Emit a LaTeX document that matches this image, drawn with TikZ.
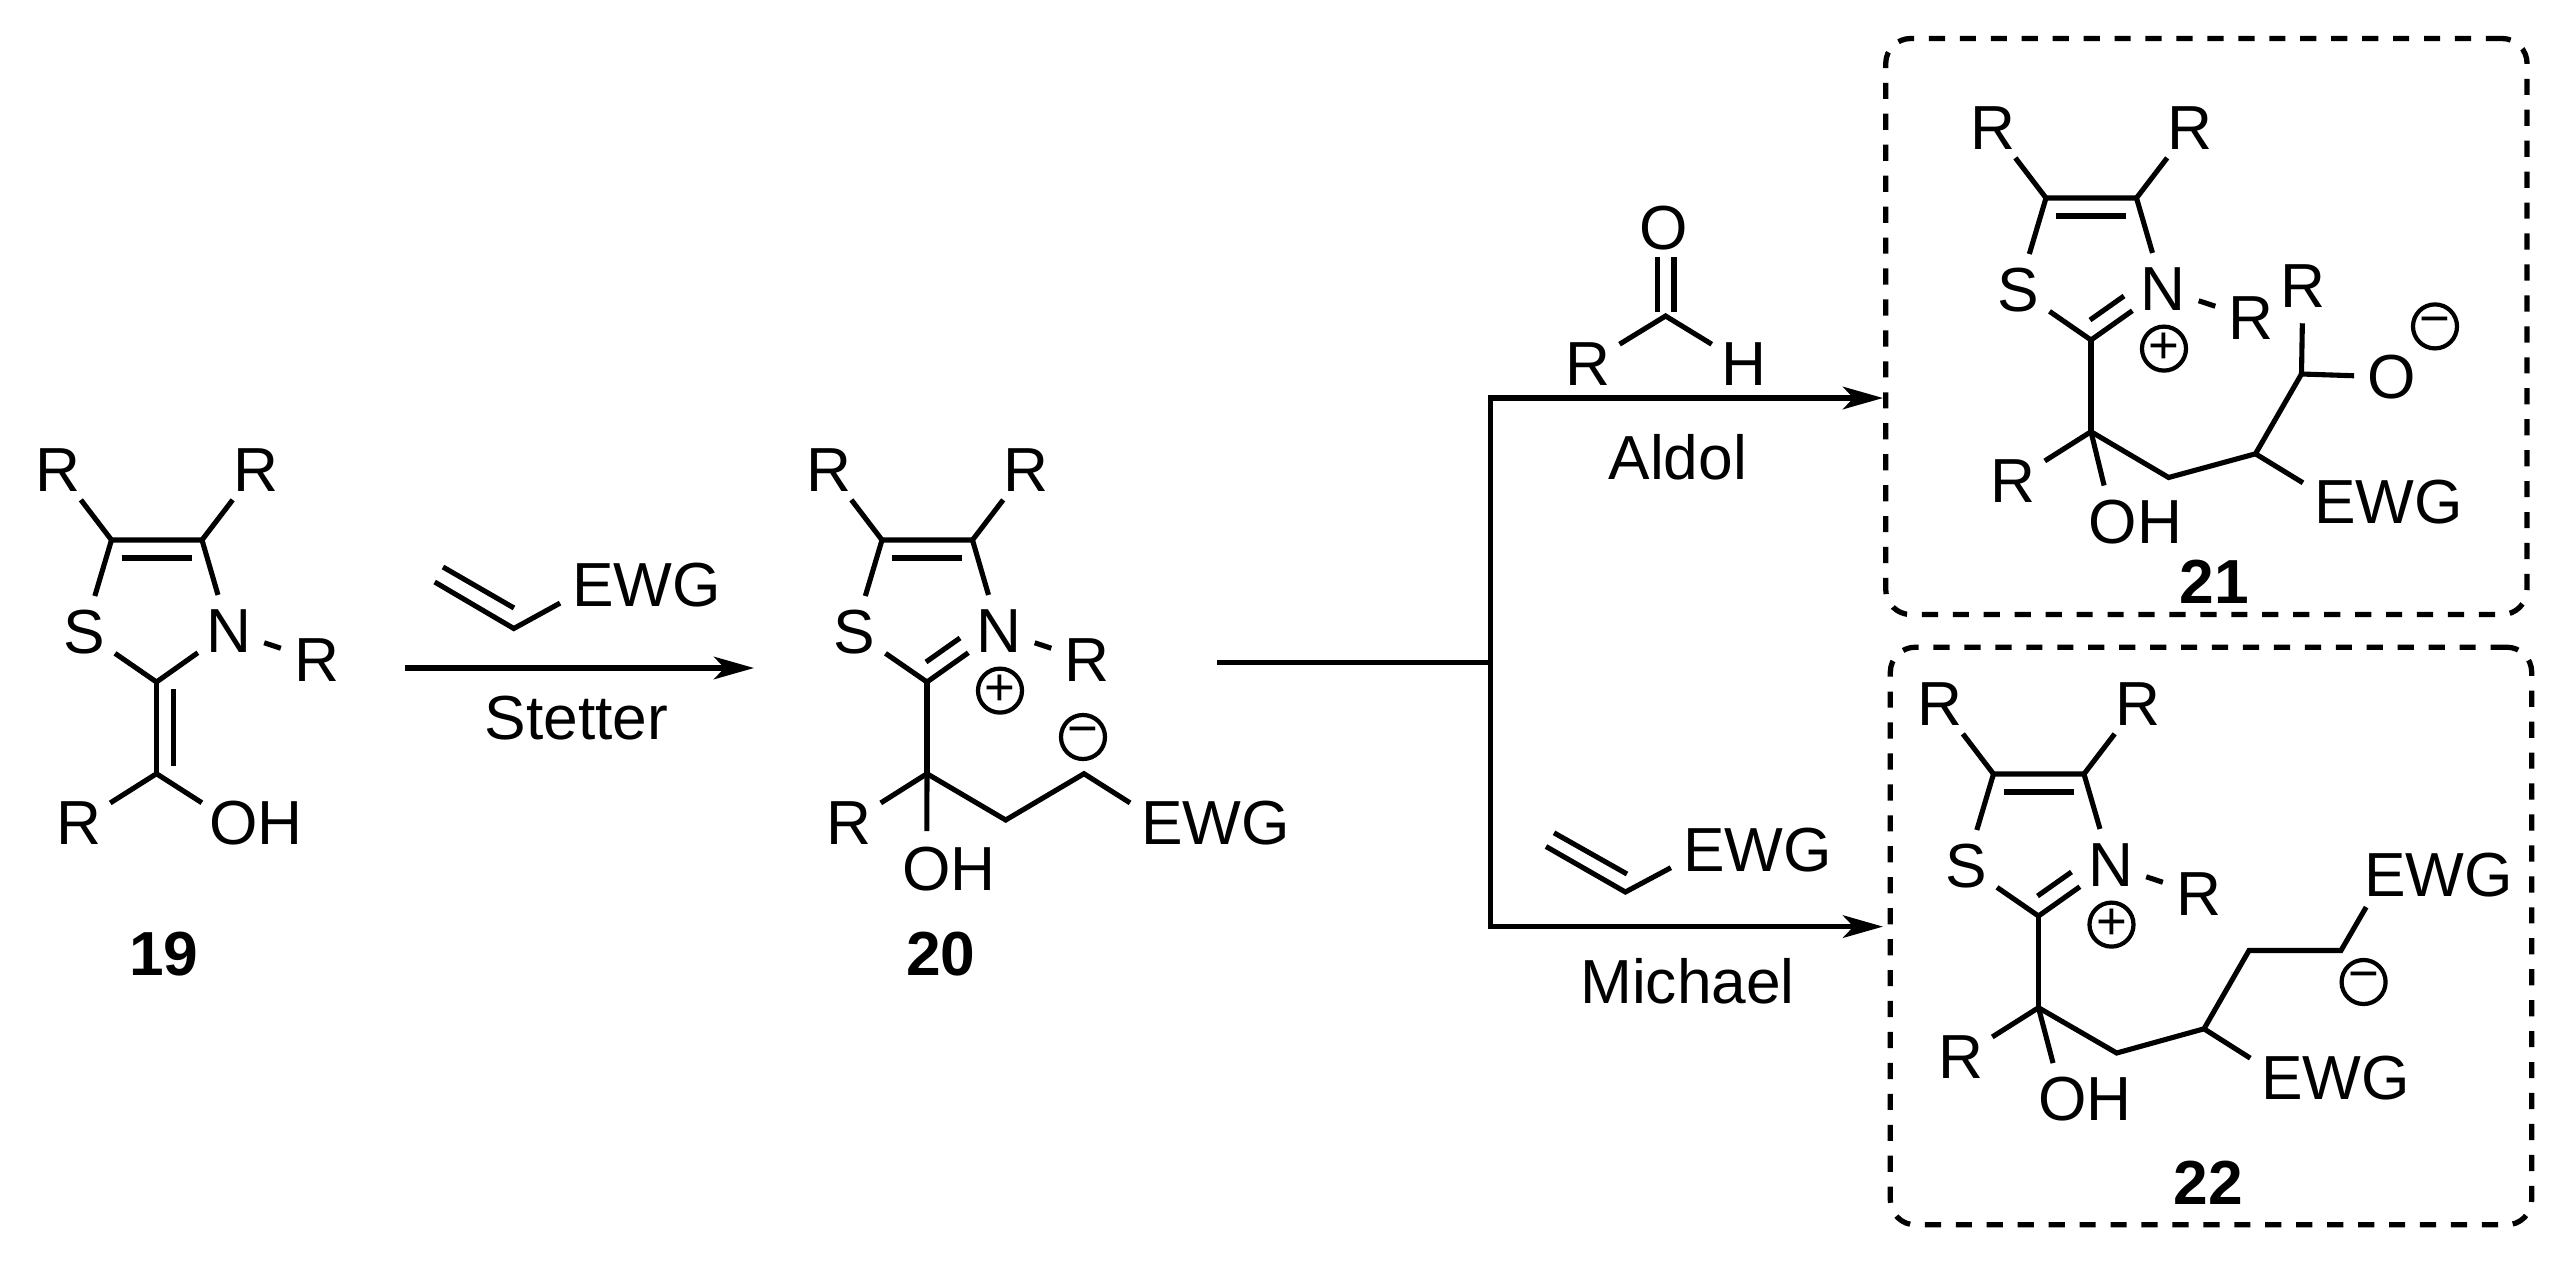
\documentclass[tikz,border=0pt]{standalone}
\usepackage{fontspec}
\setmainfont{Liberation Sans}
\usetikzlibrary{arrows.meta,calc}

\begin{document}
\begin{tikzpicture}[x=0.01cm,y=-0.01cm,line width=1.45pt]
	\tikzstyle{atom} = [circle, inner sep=0pt, minimum size=0.7cm, font=\fontsize{17.7}{20}\selectfont]
	\tikzstyle{txt} = [inner sep=0pt, font=\fontsize{17.7}{20}\selectfont]
	\tikzstyle{num} = [inner sep=0pt, font=\fontsize{17.7}{20}\selectfont\bfseries]
	\tikzstyle{charge} = [circle, draw, line width=1.2pt, inner sep=0pt, minimum size=0.44cm, font=\fontsize{15}{15}\selectfont]
	\tikzstyle{dashbox} = [rectangle, draw, line width=1.5pt, rounded corners=0.25cm, dash pattern=on 4.6pt off 4.2pt, inner sep=0pt]
	\tikzstyle{tip} = [{Stealth[length=11.4pt,width=6.4pt,inset=3pt]}-{Stealth[length=11.4pt,width=6.4pt,inset=3pt]}]
	\tikzstyle{tipend} = [-{Stealth[length=11.4pt,width=6.4pt,inset=3pt]}]
	\useasboundingbox (0,0) rectangle (2571,1266);

	\foreach \mol/\ox/\oy in {m19/111.5/540, m20/882/540, m21/2046/198, m22/1993.5/774} {
		\begin{scope}[shift={(\ox,\oy)}, name prefix=\mol-]
			\coordinate (C5) at (0,0);
			\coordinate (C4) at (90.5,0);
			\coordinate (C2) at (45,142);
			\coordinate (Ca) at (45,233.7);
			\coordinate (ia) at (10,18);
			\coordinate (ib) at (80,18);
			\node[atom] (R5) at (-53.4,-70) {R};
			\node[atom] (R4) at (144,-70) {R};
			\node[atom] (S) at (-27.4,92) {S};
			\node[atom] (N) at (117,91) {N};
			\node[atom] (RN) at (205,120) {R};
			\node[atom] (RC) at (-33,283) {R};
			\draw (R5) -- (C5);
			\draw (R4) -- (C4);
			\draw (S) -- (C5) -- (C4) -- (N);
			\draw (S) -- (C2) -- (N);
			\draw (ia) -- (ib);
			\draw (N) -- (RN);
			\draw (C2) -- (Ca);
			\draw (RC) -- (Ca);
		\end{scope}
	}

	\foreach \mol in {m20,m21,m22} {
		\coordinate (\mol-da) at ($(\mol-C2)+(-1,-20)$);
		\coordinate (\mol-db) at ($(\mol-C2)+(33,-44)$);
		\draw (\mol-da) -- (\mol-db);
		\node[charge] (\mol-plus) at ($(\mol-N)+(1,59.6)$) {+};
	}

	\coordinate (m19-ea) at (173.5,689);
	\coordinate (m19-eb) at (173.5,766);
	\draw (m19-ea) -- (m19-eb);
	\node[atom] (m19-OH) at (233.5,823) {O\rlap{H}};
	\draw (m19-Ca) -- (m19-OH);
	\node[num] (lab19) at (164,953.6) {19};

	\coordinate (s1) at (404.6,668);
	\coordinate (s2) at (754,668);
	\draw[tipend] (s1) -- (s2);
	\node[txt] (stetter) at (576.5,718) {Stetter};
	\coordinate (v1a) at (434.7,582);
	\coordinate (v1b) at (513.8,628.5);
	\coordinate (v1c) at (443,567);
	\coordinate (v1d) at (514,608);
	\node[atom] (v1E) at (593,585) {E\rlap{WG}};
	\draw (v1a) -- (v1b) -- (v1E);
	\draw (v1c) -- (v1d);

	\node[atom] (m20-OH) at (926.7,868.6) {O\rlap{H}};
	\draw (m20-Ca) -- (m20-OH);
	\coordinate (m20-c1) at (1005.7,820);
	\coordinate (m20-c2) at (1084,773.7);
	\node[atom] (m20-E) at (1161.8,823) {E\rlap{WG}};
	\draw (m20-Ca) -- (m20-c1) -- (m20-c2) -- (m20-E);
	\node[charge] (m20-minus) at (1083,737) {−};
	\node[num] (lab20) at (941,953.6) {20};

	\coordinate (in) at (1217,662.7);
	\coordinate (jmid) at (1490.6,662.7);
	\coordinate (jtop) at (1490.6,398);
	\coordinate (jbot) at (1490.6,926.6);
	\coordinate (a21) at (1883,398);
	\coordinate (a22) at (1883,926.6);
	\draw (in) -- (jmid);
	\draw[tip] (a21) -- (jtop) -- (jbot) -- (a22);

	\coordinate (ald) at (1665.6,316);
	\coordinate (ald1) at (1657.6,256.8);
	\coordinate (ald2) at (1657.6,312);
	\coordinate (ald3) at (1674,256.8);
	\coordinate (ald4) at (1674,312);
	\node[atom] (aldO) at (1664,227.7) {O};
	\node[atom] (aldR) at (1587.5,363.8) {R};
	\node[atom] (aldH) at (1743.8,363.8) {H};
	\draw (ald1) -- (ald2);
	\draw (ald3) -- (ald4);
	\draw (aldR) -- (ald) -- (aldH);
	\node[txt] (aldol) at (1677.7,457) {Aldol};

	\coordinate (v2a) at (1546,846.5);
	\coordinate (v2b) at (1625.4,892);
	\coordinate (v2c) at (1554,832.8);
	\coordinate (v2d) at (1627,874);
	\node[atom] (v2E) at (1704,850) {E\rlap{WG}};
	\draw (v2a) -- (v2b) -- (v2E);
	\draw (v2c) -- (v2d);
	\node[txt] (michael) at (1687.5,981) {Michael};

	\node[dashbox, minimum width=6.41cm, minimum height=5.757cm] (box21) at (2206.4,326.5) {};
	\node[atom] (m21-OH) at (2113,522) {O\rlap{H}};
	\draw (m21-Ca) -- (m21-OH);
	\coordinate (m21-c1) at (2168.6,477.5);
	\coordinate (m21-c2) at (2255.5,453.8);
	\coordinate (m21-c3) at (2301.5,374);
	\node[atom] (m21-E) at (2335,502.4) {E\rlap{WG}};
	\node[atom] (m21-R) at (2303,285.7) {R};
	\node[atom] (m21-O) at (2391.6,377) {O};
	\draw (m21-Ca) -- (m21-c1) -- (m21-c2) -- (m21-c3) -- (m21-R);
	\draw (m21-c2) -- (m21-E);
	\draw (m21-c3) -- (m21-O);
	\node[charge] (m21-minus) at (2435,326.4) {−};
	\node[num] (lab21) at (2214.6,582) {21};

	\node[dashbox, minimum width=6.41cm, minimum height=5.773cm] (box22) at (2211,936) {};
	\node[atom] (m22-OH) at (2062.6,1099.4) {O\rlap{H}};
	\draw (m22-Ca) -- (m22-OH);
	\coordinate (m22-c1) at (2116.7,1053);
	\coordinate (m22-c2) at (2204,1028.8);
	\coordinate (m22-c3) at (2249,950.5);
	\coordinate (m22-c4) at (2341,950.5);
	\node[atom] (m22-E) at (2282,1078.3) {E\rlap{WG}};
	\node[atom] (m22-Et) at (2385,874.6) {E\rlap{WG}};
	\draw (m22-Ca) -- (m22-c1) -- (m22-c2) -- (m22-c3) -- (m22-c4) -- (m22-Et);
	\draw (m22-c2) -- (m22-E);
	\node[charge] (m22-minus) at (2363.6,982) {−};
	\node[num] (lab22) at (2208.6,1182.5) {22};
\end{tikzpicture}
\end{document}
